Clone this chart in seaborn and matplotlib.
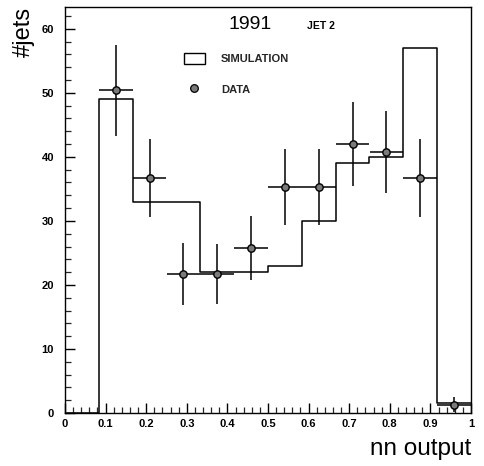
import numpy as np
import pandas as pd
import matplotlib
matplotlib.use("Agg")
import matplotlib.pyplot as plt
from matplotlib.patches import Rectangle
from matplotlib.lines import Line2D
from matplotlib.ticker import MultipleLocator
import seaborn as sns

# Histogram binning of the network output (12 bins on [0, 1])
bin_edges = [0.0, 1/12, 2/12, 3/12, 4/12, 5/12, 6/12, 7/12, 8/12, 9/12, 10/12, 11/12, 1.0]

# Simulated jet counts per bin
sim_counts = [0, 49, 33, 33, 22, 22, 23, 30, 39, 40, 57, 1.5]

# Measured jet counts (bins 2..12) with statistical errors
data_x = [0.125, 0.2083, 0.2917, 0.375, 0.4583, 0.5417, 0.625, 0.7083, 0.7917, 0.875, 0.9583]
data_y = [50.4, 36.7, 21.7, 21.7, 25.8, 35.3, 35.3, 42.0, 40.7, 36.7, 1.3]
data_err = [7.1, 6.1, 4.8, 4.7, 5.0, 6.0, 6.0, 6.5, 6.4, 6.1, 1.2]

sns.set_theme(style="white")
plt.rcParams["font.family"] = ["Liberation Sans", "DejaVu Sans"]

fig = plt.figure(figsize=(4.84, 4.66), dpi=100)
ax = fig.add_axes([65/484, 1 - 413/466, 406/484, 406/466])

centers = [(a + b) / 2 for a, b in zip(bin_edges[:-1], bin_edges[1:])]
sim_df = pd.DataFrame({"nn": centers, "w": sim_counts})
sns.histplot(data=sim_df, x="nn", weights="w", bins=bin_edges, element="step",
             fill=False, color="black", linewidth=1.1, ax=ax)

half_w = (bin_edges[1] - bin_edges[0]) / 2
ax.errorbar(data_x, data_y, yerr=data_err, xerr=half_w, fmt="none",
            ecolor="black", elinewidth=1.1, capsize=0, zorder=3)
sns.scatterplot(x=data_x, y=data_y, s=28, color="#7a7a7a", edgecolor="black",
                linewidth=1.0, zorder=4, ax=ax)

ax.set_xlim(0, 1)
ax.set_ylim(0, 63.4)

ax.xaxis.set_major_locator(MultipleLocator(0.1))
ax.xaxis.set_minor_locator(MultipleLocator(0.02))
ax.yaxis.set_major_locator(MultipleLocator(10))
ax.yaxis.set_minor_locator(MultipleLocator(2))
ax.set_xticks(np.arange(0, 1.01, 0.1))
ax.set_xticklabels(["0", "0.1", "0.2", "0.3", "0.4", "0.5", "0.6", "0.7", "0.8", "0.9", "1"])
ax.tick_params(axis="both", which="major", direction="in", length=7, width=1.0,
               labelsize=8, colors="black", bottom=True, left=True, top=False, right=False)
ax.tick_params(axis="both", which="minor", direction="in", length=4, width=0.9,
               bottom=True, left=True, top=False, right=False)
ax.tick_params(axis="x", which="major", pad=4)
ax.tick_params(axis="y", which="major", pad=8)
for lab in ax.get_xticklabels() + ax.get_yticklabels():
    lab.set_fontweight("bold")

for sp in ax.spines.values():
    sp.set_color("black")
    sp.set_linewidth(1.0)

ax.set_xlabel("nn output", loc="right", fontsize=17.5, labelpad=7, color="black")
ax.set_ylabel("#jets", loc="top", fontsize=17, labelpad=5, color="black")

ax.text(0.455, 0.946, "1991", transform=ax.transAxes, fontsize=14,
        ha="center", va="baseline", color="black")
ax.text(0.596, 0.946, "JET 2", transform=ax.transAxes, fontsize=7.5,
        ha="left", va="baseline", color="black", fontweight="bold")

handles = [
    Rectangle((0, 0), 1, 1, facecolor="white", edgecolor="black", linewidth=1.0),
    Line2D([], [], linestyle="none", marker="o", markersize=5.5,
           markerfacecolor="#7a7a7a", markeredgecolor="black", markeredgewidth=0.9),
]
leg = ax.legend(handles, ["SIMULATION", "DATA"], loc="upper left",
                bbox_to_anchor=(0.287, 0.893), frameon=False, fontsize=8,
                handlelength=1.9, handleheight=1.15, handletextpad=1.45,
                labelspacing=1.75, borderpad=0.2, borderaxespad=0)
for t in leg.get_texts():
    t.set_fontweight("bold")

fig.savefig("out.png", dpi=100)
